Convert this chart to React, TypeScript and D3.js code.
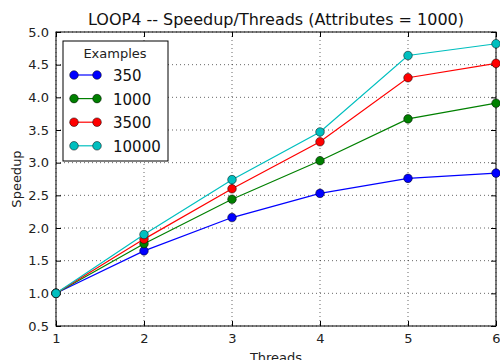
import React, { useEffect, useRef } from 'react';
import * as d3 from 'd3';

const threads = [1, 2, 3, 4, 5, 6];
const yTicks = [0.5, 1.0, 1.5, 2.0, 2.5, 3.0, 3.5, 4.0, 4.5, 5.0];
const examples = ['350', '1000', '3500', '10000'];
const colors = ['#0000ff', '#008000', '#ff0000', '#00bfbf'];
const speedup350 = [1.0, 1.65, 2.16, 2.53, 2.76, 2.84];
const speedup1000 = [1.0, 1.76, 2.44, 3.03, 3.67, 3.91];
const speedup3500 = [1.0, 1.83, 2.6, 3.32, 4.3, 4.52];
const speedup10000 = [1.0, 1.9, 2.74, 3.47, 4.64, 4.82];

const App = () => {
  const ref = useRef<SVGSVGElement>(null);

  useEffect(() => {
    const svg = d3.select(ref.current);
    svg.selectAll('*').remove();
    const font = 'DejaVu Sans, sans-serif';
    const margin = { top: 32, right: 4, bottom: 34, left: 56 };
    const width = 500 - margin.left - margin.right;
    const height = 360 - margin.top - margin.bottom;

    const x = d3.scaleLinear().domain([1, 6]).range([0, width]);
    const y = d3.scaleLinear().domain([0.5, 5.0]).range([height, 0]);

    svg.append('rect').attr('width', 500).attr('height', 360).attr('fill', '#fff');

    const g = svg.append('g').attr('transform', `translate(${margin.left},${margin.top})`);

    // grid
    g.selectAll('.gx').data(threads).enter().append('line')
      .attr('x1', d => x(d)).attr('x2', d => x(d))
      .attr('y1', 0).attr('y2', height)
      .attr('stroke', '#000').attr('stroke-width', 0.6).attr('stroke-dasharray', '1,3');
    g.selectAll('.gy').data(yTicks).enter().append('line')
      .attr('y1', d => y(d)).attr('y2', d => y(d))
      .attr('x1', 0).attr('x2', width)
      .attr('stroke', '#000').attr('stroke-width', 0.6).attr('stroke-dasharray', '1,3');

    // axes, ticks pointing inward on all sides
    const tickFmt = d3.format('.1f');
    g.append('g').attr('transform', `translate(0,${height})`)
      .call(d3.axisBottom(x).tickValues(threads).tickSizeInner(-5).tickSizeOuter(0).tickPadding(8).tickFormat(d3.format('d')));
    g.append('g')
      .call(d3.axisTop(x).tickValues(threads).tickSizeInner(-5).tickSizeOuter(0).tickFormat(() => ''));
    g.append('g')
      .call(d3.axisLeft(y).tickValues(yTicks).tickSizeInner(-5).tickSizeOuter(0).tickPadding(7).tickFormat(d => tickFmt(d as number)));
    g.append('g').attr('transform', `translate(${width},0)`)
      .call(d3.axisRight(y).tickValues(yTicks).tickSizeInner(-5).tickSizeOuter(0).tickFormat(() => ''));
    g.selectAll('.domain').remove();
    g.selectAll('.tick line').attr('stroke', '#000');
    g.selectAll('.tick text').attr('fill', '#222').style('font', `13px ${font}`);

    g.append('rect').attr('width', width).attr('height', height)
      .attr('fill', 'none').attr('stroke', '#000').attr('stroke-width', 1);

    const series = [speedup350, speedup1000, speedup3500, speedup10000];
    const line = d3.line<number>().x((_, i) => x(threads[i])).y(d => y(d));

    series.forEach((s, k) => {
      g.append('path').datum(s).attr('d', line)
        .attr('fill', 'none').attr('stroke', colors[k]).attr('stroke-width', 1.2);
      g.selectAll(`.pt${k}`).data(s).enter().append('circle')
        .attr('cx', (_, i) => x(threads[i])).attr('cy', d => y(d)).attr('r', 4.3)
        .attr('fill', colors[k]).attr('stroke', '#000').attr('stroke-width', 0.5);
    });

    // title & labels
    svg.append('text').attr('x', margin.left + width / 2).attr('y', 25)
      .attr('text-anchor', 'middle').style('font', `16px ${font}`).attr('fill', '#111')
      .text('LOOP4 -- Speedup/Threads (Attributes = 1000)');
    svg.append('text').attr('x', margin.left + width / 2).attr('y', 362)
      .attr('text-anchor', 'middle').style('font', `13px ${font}`).attr('fill', '#222')
      .text('Threads');
    svg.append('text').attr('transform', `translate(21,${margin.top + height / 2}) rotate(-90)`)
      .attr('text-anchor', 'middle').style('font', `13px ${font}`).attr('fill', '#222')
      .text('Speedup');

    // legend
    const lg = svg.append('g').attr('transform', 'translate(63,41)');
    lg.append('rect').attr('width', 105).attr('height', 120)
      .attr('fill', '#fff').attr('stroke', '#000').attr('stroke-width', 1);
    lg.append('text').attr('x', 52).attr('y', 17).attr('text-anchor', 'middle')
      .style('font', `13px ${font}`).attr('fill', '#222').text('Examples');
    examples.forEach((name, k) => {
      const cy = 34 + k * 23.6;
      lg.append('line').attr('x1', 11).attr('x2', 34).attr('y1', cy).attr('y2', cy)
        .attr('stroke', colors[k]).attr('stroke-width', 1.2);
      [11, 34].forEach(cx => lg.append('circle').attr('cx', cx).attr('cy', cy).attr('r', 4.3)
        .attr('fill', colors[k]).attr('stroke', '#000').attr('stroke-width', 0.5));
      lg.append('text').attr('x', 50).attr('y', cy + 6)
        .style('font', `15px ${font}`).attr('fill', '#111').text(name);
    });
  }, []);

  return <svg ref={ref} width={500} height={360} style={{ position: 'absolute', left: 0, top: 0 }} />;
};

export default App;
